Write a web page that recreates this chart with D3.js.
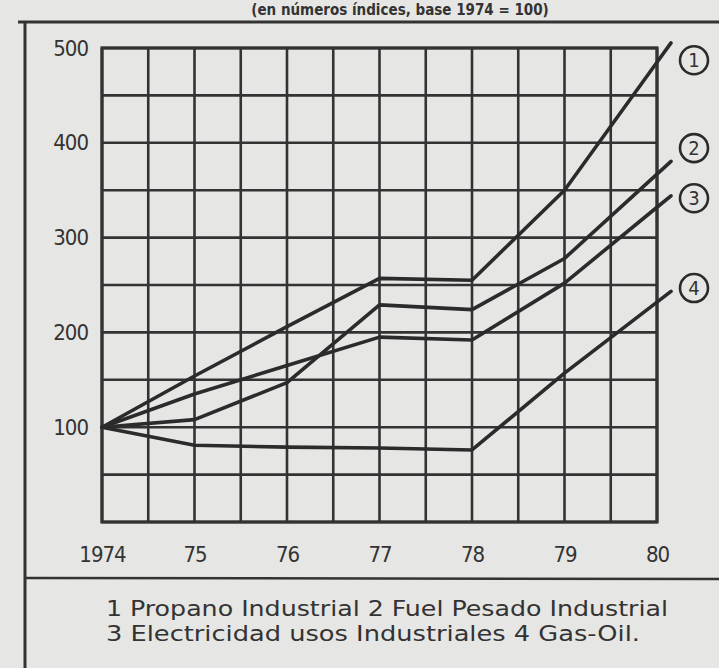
<!DOCTYPE html>
<html>
<head>
<meta charset="utf-8">
<script src="https://cdn.jsdelivr.net/npm/d3@7"></script>
<style>
  html, body { margin: 0; padding: 0; background: #e6e6e4; }
  svg { display: block; }
  .lbl { font-family: "Liberation Sans Narrow", "DejaVu Sans Condensed", "Liberation Sans", Arial, sans-serif; fill: #333; }
</style>
</head>
<body>
<svg id="chart" width="719" height="668"></svg>
<script>
// ---- data ----
const years = [1974, 1975, 1976, 1977, 1978, 1979, 1980];
const propanoIndustrial = [100, 154, 206, 257, 255, 350, 485];
const fuelPesadoIndustrial = [100, 108, 147, 229, 224, 278, 367];
const electricidadUsosIndustriales = [100, 135, 165, 195, 192, 252, 332];
const gasOil = [100, 81, 79, 78, 76, 157, 232];
const yTickValues = [100, 200, 300, 400, 500];
const xTickLabels = ["1974", "75", "76", "77", "78", "79", "80"];
const seriesNumbers = ["1", "2", "3", "4"];
const legendLines = [
  "1 Propano Industrial 2 Fuel Pesado Industrial",
  "3 Electricidad usos Industriales 4 Gas-Oil."
];
const titleText = "(en números índices, base 1974 = 100)";

const series = [propanoIndustrial, fuelPesadoIndustrial, electricidadUsosIndustriales, gasOil];

// ---- layout ----
const svg = d3.select("#chart");
const W = 719, H = 668;
const plotL = 102, plotR = 657, plotT = 48, plotB = 522;
const ink = "#333333";

svg.append("rect").attr("width", W).attr("height", H).attr("fill", "#e6e6e4");

const x = d3.scaleLinear().domain([1974, 1980]).range([plotL, plotR]);
const y = d3.scaleLinear().domain([0, 500]).range([plotB, plotT]);

// title above the frame
svg.append("text").attr("class", "lbl")
  .attr("x", 400).attr("y", 15)
  .attr("text-anchor", "middle")
  .attr("font-size", 15).attr("font-weight", "bold")
  .attr("fill", "#555")
  .text(titleText);

// outer frame
svg.append("line").attr("x1", 18).attr("x2", W).attr("y1", 22).attr("y2", 22)
  .attr("stroke", ink).attr("stroke-width", 3);
svg.append("line").attr("x1", 25).attr("x2", 25).attr("y1", 21).attr("y2", H)
  .attr("stroke", ink).attr("stroke-width", 3);
svg.append("line").attr("x1", 25).attr("x2", W).attr("y1", 578).attr("y2", 579)
  .attr("stroke", ink).attr("stroke-width", 2.5);

// grid
const g = svg.append("g");
g.selectAll("line.v").data(d3.range(1974, 1980.001, 0.5)).join("line")
  .attr("x1", d => x(d)).attr("x2", d => x(d))
  .attr("y1", y(0)).attr("y2", y(500))
  .attr("stroke", ink).attr("stroke-width", 2.6);
g.selectAll("line.h").data(d3.range(0, 500.001, 50)).join("line")
  .attr("x1", x(1974)).attr("x2", x(1980))
  .attr("y1", d => y(d)).attr("y2", d => y(d))
  .attr("stroke", ink).attr("stroke-width", 2.6);
g.append("rect").attr("x", x(1974)).attr("y", y(500))
  .attr("width", x(1980) - x(1974)).attr("height", y(0) - y(500))
  .attr("fill", "none").attr("stroke", ink).attr("stroke-width", 3.2);

// axes (labels only)
const yAxis = d3.axisLeft(y).tickValues(yTickValues).tickSize(0).tickPadding(14);
const yg = svg.append("g").attr("transform", `translate(${plotL},0)`).call(yAxis);
yg.select(".domain").remove();
yg.selectAll("text").attr("class", "lbl").attr("font-size", 22).attr("fill", "#333")
  .style("letter-spacing", "-1px");

const xAxis = d3.axisBottom(x).tickValues(years).tickSize(0).tickPadding(24)
  .tickFormat((d, i) => xTickLabels[i]);
const xg = svg.append("g").attr("transform", `translate(0,${plotB})`).call(xAxis);
xg.select(".domain").remove();
xg.selectAll("text").attr("class", "lbl").attr("font-size", 22).attr("fill", "#333")
  .style("letter-spacing", "-1px");

// series lines, extended a little past 1980 toward the circled numbers
const ext = 14;
const labelDy = [-2, -26, -9, -14];
series.forEach((vals, si) => {
  const pts = years.map((yr, i) => [x(yr), y(vals[i])]);
  const a = pts[pts.length - 2], b = pts[pts.length - 1];
  const slope = (b[1] - a[1]) / (b[0] - a[0]);
  pts.push([b[0] + ext, b[1] + slope * ext]);
  svg.append("path")
    .attr("d", d3.line()(pts))
    .attr("fill", "none").attr("stroke", "#2b2b2b")
    .attr("stroke-width", 3.6).attr("stroke-linejoin", "round").attr("stroke-linecap", "round");

  const cx = x(1980) + 37, cy = y(vals[vals.length - 1]) + labelDy[si];
  svg.append("circle").attr("cx", cx).attr("cy", cy).attr("r", 14)
    .attr("fill", "none").attr("stroke", "#2b2b2b").attr("stroke-width", 2.6);
  svg.append("text").attr("class", "lbl")
    .attr("x", cx).attr("y", cy).attr("dy", "0.36em")
    .attr("text-anchor", "middle").attr("font-size", 20).attr("fill", "#2b2b2b")
    .text(seriesNumbers[si]);
});

// legend text
const legendWidths = [562, 534];
legendLines.forEach((t, i) => {
  svg.append("text").attr("class", "lbl")
    .attr("x", 106).attr("y", 616 + i * 25)
    .attr("font-size", 22).attr("fill", "#333")
    .attr("textLength", legendWidths[i]).attr("lengthAdjust", "spacingAndGlyphs")
    .text(t);
});
</script>
</body>
</html>
